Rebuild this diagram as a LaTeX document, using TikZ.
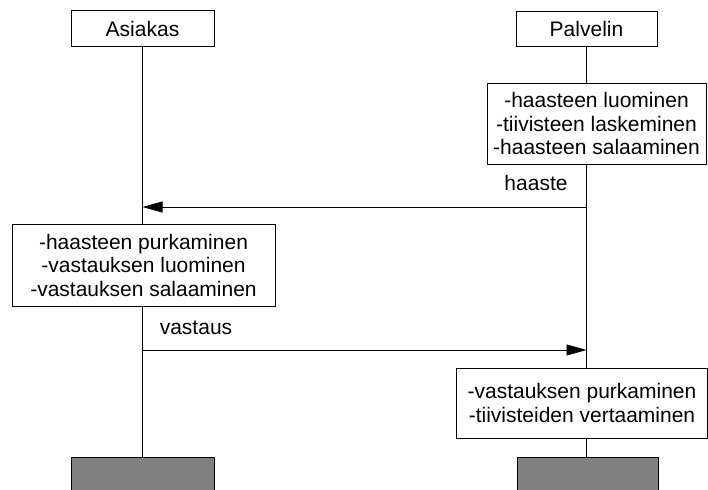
\documentclass[tikz,border=0pt]{standalone}
\usepackage{fontspec}
\setmainfont{Liberation Sans}
\usetikzlibrary{arrows.meta}
\tikzset{
  box/.style={draw, fill=white, line width=0.8pt, inner sep=0pt, align=center,
    font=\fontsize{21}{23.5}\selectfont},
  endbox/.style={draw, fill=black!50, line width=0.8pt, inner sep=0pt},
  life/.style={line width=0.8pt},
  msg/.style={line width=0.8pt, -{Triangle[length=20pt,width=11pt]}},
  lbl/.style={font=\fontsize{21}{23.5}\selectfont}
}
\begin{document}
\begin{tikzpicture}[x=1pt, y=-1pt]
\useasboundingbox (0,0) rectangle (708,489);
\node [box, minimum width=143pt, minimum height=36pt] (A) at (142.5,28.5) {Asiakas};
\node [box, minimum width=141pt, minimum height=35pt] (P) at (586.5,28.5) {Palvelin};

\node [box, minimum width=219pt, minimum height=81pt] (P1) at (596.5,123.5) {-haasteen luominen\\-tiivisteen laskeminen\\-haasteen salaaminen};
\node [box, minimum width=263pt, minimum height=82pt] (A1) at (143.5,265) {-haasteen purkaminen\\-vastauksen luominen\\-vastauksen salaaminen};
\node [box, minimum width=251pt, minimum height=70pt] (P2) at (582,403) {-vastauksen purkaminen\\-tiivisteiden vertaaminen};

\node [endbox, minimum width=143pt, minimum height=50pt] (AE) at (142.5,482) {};
\node [endbox, minimum width=141pt, minimum height=50pt] (PE) at (587.5,482) {};

\draw [life] (A.south) -- (A.south |- A1.north);
\draw [life] (A.south |- A1.south) -- (A.south |- AE.north);
\draw [life] (P.south) -- (P.south |- P1.north);
\draw [life] (P.south |- P1.south) -- (P.south |- P2.north);
\draw [life] (P.south |- P2.south) -- (P.south |- PE.north);

\coordinate (H1) at (P.south |- 0,207);
\coordinate (H2) at (A.south |- 0,207);
\coordinate (V1) at (A.south |- 0,350);
\coordinate (V2) at (P.south |- 0,350);
\draw [msg] (H1) -- (H2);
\draw [msg] (V1) -- (V2);
\node [lbl] (haaste) at (536,183) {haaste};
\node [lbl] (vastaus) at (196,328) {vastaus};
\end{tikzpicture}
\end{document}
